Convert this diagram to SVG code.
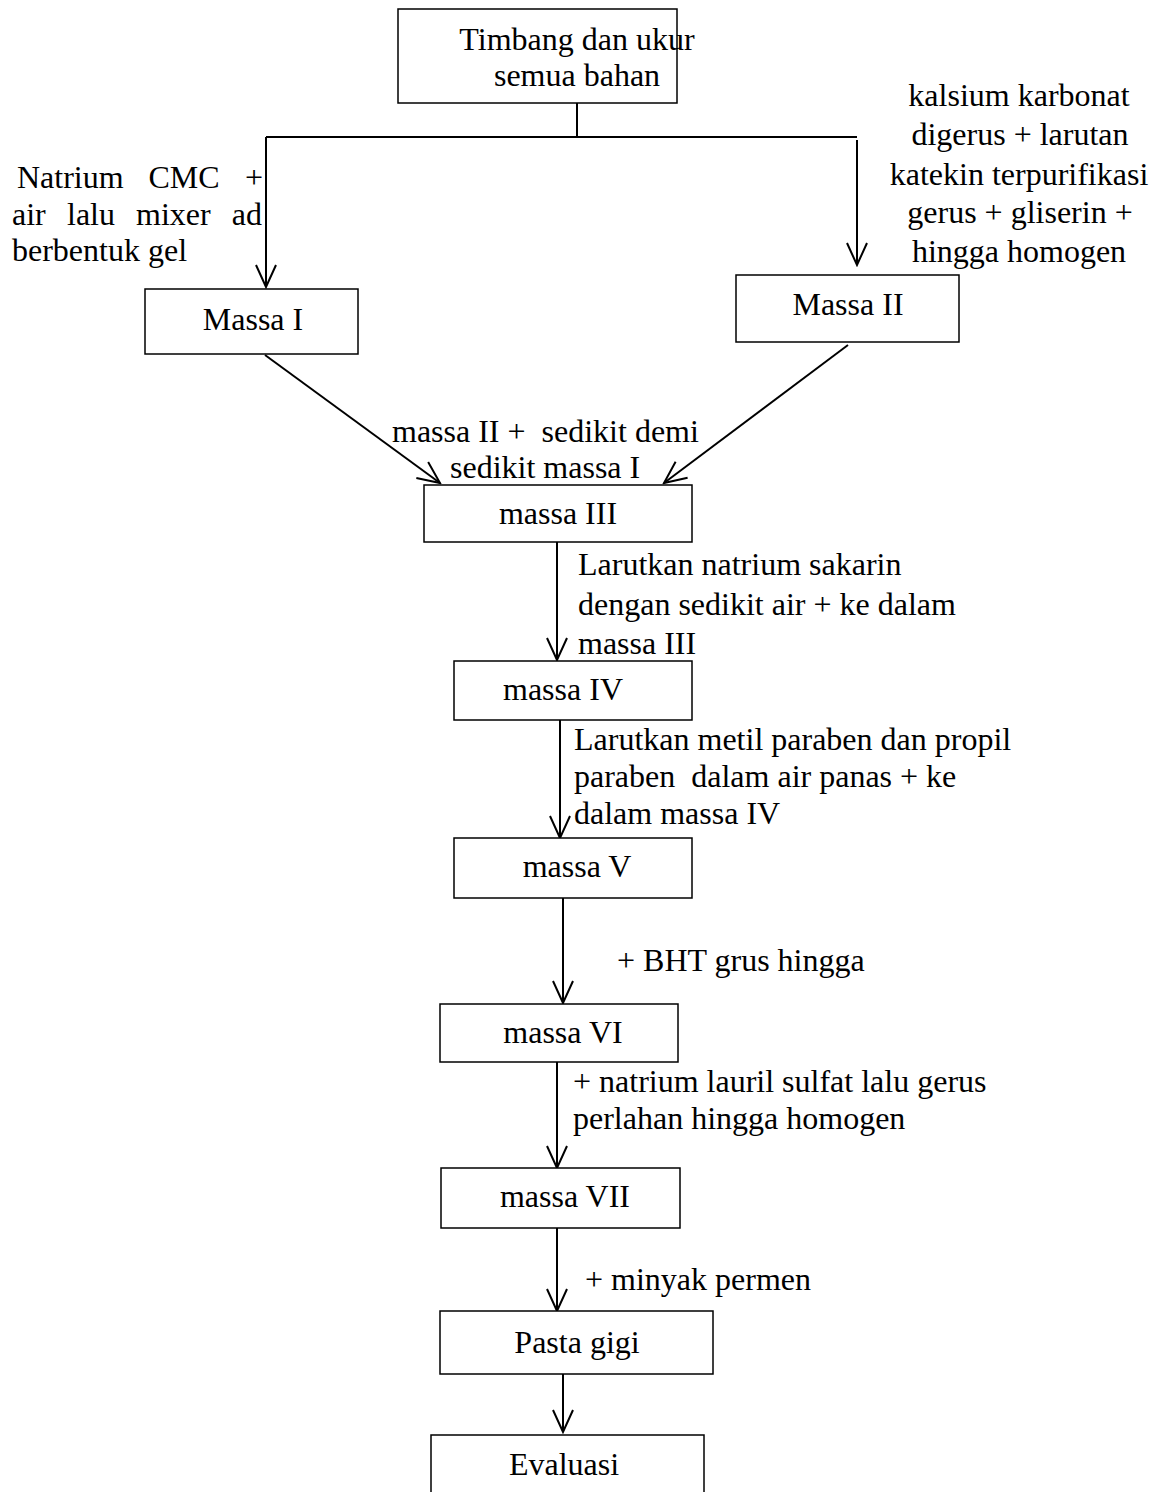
<svg xmlns="http://www.w3.org/2000/svg" width="1162" height="1492" viewBox="0 0 1162 1492">
<style>
.box{fill:#fff;stroke:#000;stroke-width:1.5}
.t{font-family:"Liberation Serif","Times New Roman",serif;font-size:32px;fill:#000}
.c{text-anchor:middle}
.e{text-anchor:end}
.ln{stroke:#000;stroke-width:2;fill:none}
</style>
<defs>
<marker id="ah" markerUnits="userSpaceOnUse" markerWidth="26" markerHeight="26" viewBox="-24 -13 26 26" refX="0" refY="0" orient="auto">
<path d="M-22,-10 L0,0 L-22,10" fill="none" stroke="#000" stroke-width="2"/>
</marker>
</defs>
<rect width="1162" height="1492" fill="#fff"/>
<g id="connectors">
<path class="ln" d="M577,103 V137"/>
<path class="ln" d="M266,137 H857"/>
<path class="ln" d="M266,137 V287" marker-end="url(#ah)"/>
<path class="ln" d="M857,140 V265" marker-end="url(#ah)"/>
<path class="ln" d="M265,355 L440,483" marker-end="url(#ah)"/>
<path class="ln" d="M848,345 L664,483" marker-end="url(#ah)"/>
<path class="ln" d="M557,542 V660" marker-end="url(#ah)"/>
<path class="ln" d="M560,720 V838" marker-end="url(#ah)"/>
<path class="ln" d="M563,898 V1003" marker-end="url(#ah)"/>
<path class="ln" d="M557,1062 V1168" marker-end="url(#ah)"/>
<path class="ln" d="M557,1228 V1311" marker-end="url(#ah)"/>
<path class="ln" d="M563,1374 V1432" marker-end="url(#ah)"/>
</g>
<g id="labels">
<text class="t" x="17" y="188">Natrium</text>
<text class="t c" x="184" y="188">CMC</text>
<text class="t e" x="263" y="188">+</text>
<text class="t" x="12" y="225">air</text>
<text class="t" x="67" y="225">lalu</text>
<text class="t" x="136" y="225">mixer</text>
<text class="t e" x="262" y="225">ad</text>
<text class="t" x="12" y="261">berbentuk gel</text>
<text class="t c" x="1019" y="106">kalsium karbonat</text>
<text class="t c" x="1020" y="145">digerus + larutan</text>
<text class="t c" x="1019" y="185">katekin terpurifikasi</text>
<text class="t c" x="1020" y="223">gerus + gliserin +</text>
<text class="t c" x="1019" y="262">hingga homogen</text>
<text class="t" x="392" y="442" xml:space="preserve">massa II +  sedikit demi</text>
<text class="t" x="450" y="478">sedikit massa I</text>
<text class="t" x="578" y="575">Larutkan natrium sakarin</text>
<text class="t" x="578" y="615">dengan sedikit air + ke dalam</text>
<text class="t" x="578" y="654">massa III</text>
<text class="t" x="574" y="750">Larutkan metil paraben dan propil</text>
<text class="t" x="574" y="787" xml:space="preserve">paraben  dalam air panas + ke</text>
<text class="t" x="574" y="824">dalam massa IV</text>
<text class="t" x="617" y="971">+ BHT grus hingga</text>
<text class="t" x="573" y="1092">+ natrium lauril sulfat lalu gerus</text>
<text class="t" x="573" y="1129">perlahan hingga homogen</text>
<text class="t" x="585" y="1290">+ minyak permen</text>
</g>
<g id="n_top"><rect class="box" x="398" y="9" width="279" height="94"/>
<text class="t c" x="577" y="50">Timbang dan ukur</text><text class="t c" x="577" y="86">semua bahan</text></g>
<g id="n_m1"><rect class="box" x="145" y="289" width="213" height="65"/><text class="t c" x="253" y="330">Massa I</text></g>
<g id="n_m2"><rect class="box" x="736" y="275" width="223" height="67"/><text class="t c" x="848" y="315">Massa II</text></g>
<g id="n_m3"><rect class="box" x="424" y="485" width="268" height="57"/><text class="t c" x="558" y="524">massa III</text></g>
<g id="n_m4"><rect class="box" x="454" y="661" width="238" height="59"/><text class="t c" x="563" y="700">massa IV</text></g>
<g id="n_m5"><rect class="box" x="454" y="838" width="238" height="60"/><text class="t c" x="577" y="877">massa V</text></g>
<g id="n_m6"><rect class="box" x="440" y="1004" width="238" height="58"/><text class="t c" x="563" y="1043">massa VI</text></g>
<g id="n_m7"><rect class="box" x="441" y="1168" width="239" height="60"/><text class="t c" x="565" y="1207">massa VII</text></g>
<g id="n_pasta"><rect class="box" x="440" y="1311" width="273" height="63"/><text class="t c" x="577" y="1353">Pasta gigi</text></g>
<g id="n_eval"><rect class="box" x="431" y="1435" width="273" height="70"/><text class="t c" x="564" y="1475">Evaluasi</text></g>
</svg>
